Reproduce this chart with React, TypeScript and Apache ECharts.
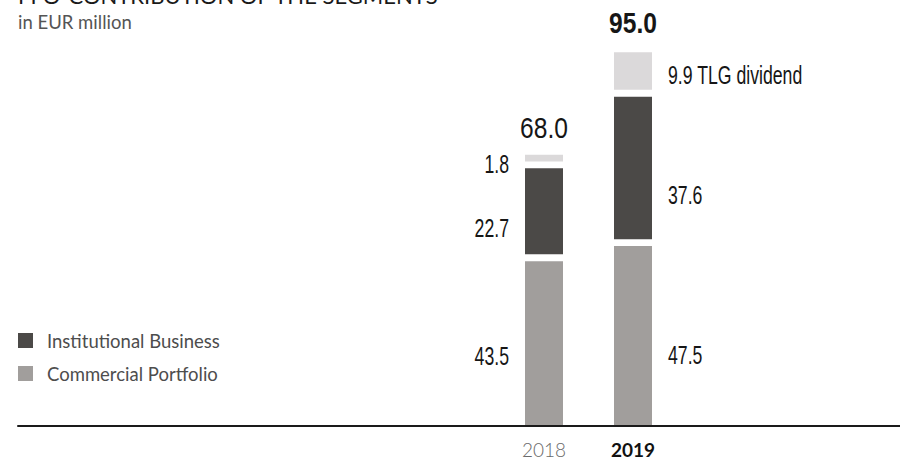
import React, { useEffect, useRef } from "react";
import * as echarts from "echarts";

// ---- data ----
const categories = ["2018", "2019"];
const commercialPortfolio = [43.5, 47.5];
const institutionalBusiness = [22.7, 37.6];
const tlgDividend = [1.8, 9.9];
const seriesNames = ["Commercial Portfolio", "Institutional Business", "TLG dividend"];
const titleText = "FFO-CONTRIBUTION OF THE SEGMENTS";
const subtitleText = "in EUR million";
const tlgSuffix = "TLG dividend";

// ---- styles ----
const COLORS = { commercial: "#a19e9c", institutional: "#4b4947", tlg: "#dbd9da" };
const GAP = 1.8; // visual spacing between stacked segments, in value units
const NUM_FONT = '"Liberation Sans", Arial, sans-serif';
const TEXT_FONT = 'Lato, "Open Sans", sans-serif';
const LABEL_DY = { commercial: [13, 19], institutional: [17, 27], tlg: [6, 4] };
const TOTAL_DY = [-27, -30];
const LABEL_DIST = 16;
const BAR_W = 38;

type LabelItem = {
  cat: number;
  y: number;
  text: string;
  kind: "seg" | "total";
  dy: number;
  bold: boolean;
};

export default function App() {
  const ref = useRef<HTMLDivElement>(null);

  useEffect(() => {
    if (!ref.current) return;
    const chart = echarts.init(ref.current, undefined, { renderer: "svg" });
    const last = categories.length - 1;

    // label anchors in value space (segment middles and stack tops)
    const labelItems: LabelItem[] = [];
    categories.forEach((_, i) => {
      let cum = 0;
      const segs = [
        { v: commercialPortfolio[i], dy: LABEL_DY.commercial[i], suffix: "" },
        { v: institutionalBusiness[i], dy: LABEL_DY.institutional[i], suffix: "" },
        { v: tlgDividend[i], dy: LABEL_DY.tlg[i], suffix: i === last ? tlgSuffix : "" },
      ];
      segs.forEach((s, k) => {
        labelItems.push({
          cat: i,
          y: cum + s.v / 2,
          text: s.suffix ? `${s.v.toFixed(1)} ${s.suffix}` : s.v.toFixed(1),
          kind: "seg",
          dy: s.dy,
          bold: false,
        });
        cum += s.v + (k < segs.length - 1 ? GAP : 0);
      });
      const total = commercialPortfolio[i] + institutionalBusiness[i] + tlgDividend[i];
      labelItems.push({
        cat: i,
        y: cum,
        text: total.toFixed(1),
        kind: "total",
        dy: TOTAL_DY[i],
        bold: i === last,
      });
    });

    const gapSeries = (id: string) => ({
      id,
      type: "bar",
      stack: "total",
      barWidth: BAR_W,
      silent: true,
      itemStyle: { color: "rgba(0,0,0,0)" },
      data: categories.map(() => GAP),
    });

    chart.setOption({
      animation: false,
      title: [
        {
          text: titleText,
          left: 18,
          top: -16,
          padding: 0,
          textStyle: { fontFamily: TEXT_FONT, fontSize: 22, fontWeight: "normal", color: "#1a1a1a" },
        },
        {
          text: subtitleText,
          left: 18,
          top: 12,
          padding: 0,
          textStyle: { fontFamily: TEXT_FONT, fontSize: 18.5, fontWeight: "normal", color: "#555555" },
        },
      ],
      legend: {
        data: [seriesNames[1], seriesNames[0]],
        orient: "vertical",
        left: 18,
        top: 331,
        padding: 0,
        itemWidth: 15,
        itemHeight: 15,
        itemGap: 14,
        icon: "rect",
        selectedMode: false,
        textStyle: {
          fontFamily: TEXT_FONT,
          fontSize: 18.5,
          color: "#4d4d4d",
          padding: [0, 0, 0, 9],
        },
      },
      grid: [
        { left: 499.5, width: 178, top: 47, bottom: 34 },
        { left: 18, right: 0, top: 47, bottom: 34 },
      ],
      xAxis: [
        {
          gridIndex: 0,
          type: "category",
          data: categories,
          axisLine: { show: false },
          axisTick: { show: false },
          axisLabel: {
            margin: 14,
            formatter: (v: string, i: number) => (i === last ? `{b|${v}}` : `{n|${v}}`),
            rich: {
              n: { fontFamily: TEXT_FONT, fontSize: 19, fontWeight: 300, color: "#6a6a6a" },
              b: { fontFamily: TEXT_FONT, fontSize: 19, fontWeight: "bold", color: "#111111" },
            },
          },
        },
        {
          gridIndex: 1,
          type: "value",
          min: 0,
          max: 1,
          z: 10,
          axisLine: { show: true, onZero: false, lineStyle: { color: "#1a1a1a", width: 2 } },
          axisTick: { show: false },
          axisLabel: { show: false },
          splitLine: { show: false },
        },
      ],
      yAxis: [
        { gridIndex: 0, type: "value", min: 0, max: 100, show: false },
        { gridIndex: 1, type: "value", min: 0, max: 1, show: false },
      ],
      series: [
        {
          name: seriesNames[0],
          type: "bar",
          stack: "total",
          barWidth: BAR_W,
          itemStyle: { color: COLORS.commercial },
          data: commercialPortfolio,
        },
        gapSeries("gap1"),
        {
          name: seriesNames[1],
          type: "bar",
          stack: "total",
          barWidth: BAR_W,
          itemStyle: { color: COLORS.institutional },
          data: institutionalBusiness,
        },
        gapSeries("gap2"),
        {
          name: seriesNames[2],
          type: "bar",
          stack: "total",
          barWidth: BAR_W,
          itemStyle: { color: COLORS.tlg },
          data: tlgDividend,
        },
        {
          id: "labels",
          type: "custom",
          xAxisIndex: 0,
          yAxisIndex: 0,
          silent: true,
          clip: false,
          z: 20,
          encode: { x: 0, y: 1 },
          data: labelItems.map((l) => [l.cat, l.y]),
          renderItem: (params: any, api: any) => {
            const item = labelItems[params.dataIndex];
            const pt = api.coord([api.value(0), api.value(1)]);
            const isTotal = item.kind === "total";
            const leftSide = item.cat === 0;
            let x = pt[0];
            let align = "center";
            if (!isTotal) {
              if (leftSide) {
                x = pt[0] - BAR_W / 2 - LABEL_DIST;
                align = "right";
              } else {
                x = pt[0] + BAR_W / 2 + LABEL_DIST;
                align = "left";
              }
            }
            return {
              type: "text",
              x,
              y: pt[1] + item.dy,
              scaleX: isTotal ? 0.82 : 0.68,
              style: {
                text: item.text,
                fontFamily: NUM_FONT,
                fontSize: isTotal ? 30 : 26,
                fontWeight: item.bold ? "bold" : "normal",
                fill: "#161616",
                align,
                verticalAlign: "middle",
              },
            };
          },
        },
      ],
    });

    return () => chart.dispose();
  }, []);

  return (
    <div
      ref={ref}
      style={{ position: "fixed", left: 0, top: 0, width: 900, height: 460, background: "#ffffff" }}
    />
  );
}
